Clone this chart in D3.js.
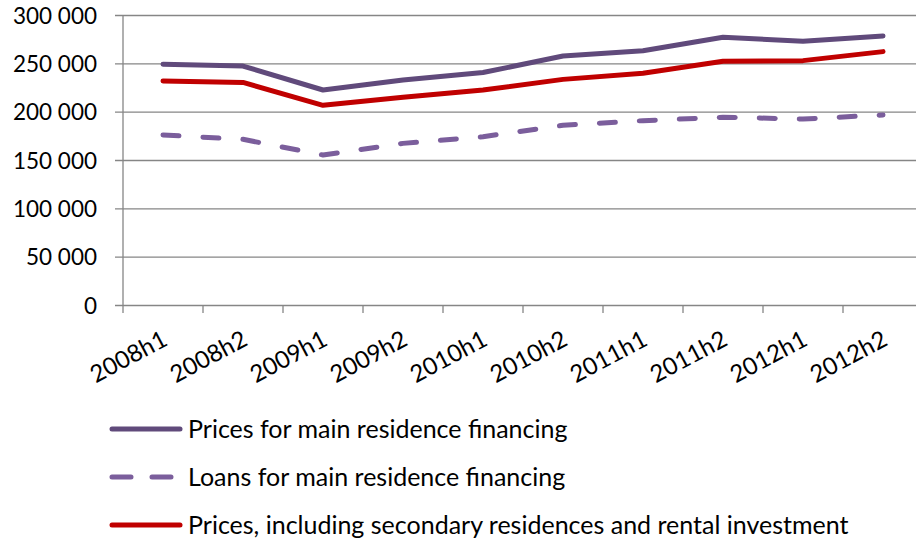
<!DOCTYPE html>
<html>
<head>
<meta charset="utf-8">
<script src="https://cdn.jsdelivr.net/npm/d3@7"></script>
<style>
  body { margin: 0; background: #fff; }
  svg text { font-family: Lato, "Open Sans", sans-serif; fill: #000; }
</style>
</head>
<body>
<svg id="chart" width="916" height="542"></svg>
<script>
// periods on the x axis
var periods = ["2008h1","2008h2","2009h1","2009h2","2010h1","2010h2","2011h1","2011h2","2012h1","2012h2"];
var yTicks = [0, 50000, 100000, 150000, 200000, 250000, 300000];

// series values
var pricesMain = [249000, 247200, 222400, 232700, 240500, 257600, 263100, 276900, 272800, 278300];
var loansMain  = [175900, 171400, 155200, 167200, 174100, 185900, 190700, 194200, 192400, 196600];
var pricesAll  = [231700, 230300, 206600, 214800, 222400, 233400, 239700, 252100, 252800, 262100];

var seriesNames = [
  "Prices for main residence financing",
  "Loans for main residence financing",
  "Prices, including secondary residences and rental investment"
];

var svg = d3.select("#chart");
var mLeft = 123, mTop = 15, mRight = 923, mBottom = 305;

var x = d3.scaleBand().domain(periods).range([mLeft, mRight]);
var y = d3.scaleLinear().domain([0, 300000]).range([mBottom, mTop]);

var fmt = function(d){ return d3.format(",")(d).replace(/,/g, " "); };

// y axis + grid
var yAxis = svg.append("g")
    .attr("transform", `translate(${mLeft},0)`)
    .call(d3.axisLeft(y).tickValues(yTicks).tickSize(-(mRight - mLeft)).tickFormat(fmt).tickPadding(26));
yAxis.select(".domain").remove();
yAxis.selectAll("line")
    .attr("x1", -8)
    .attr("x2", mRight - mLeft)
    .attr("stroke", "#868686")
    .attr("stroke-width", 1.3);
yAxis.selectAll("text")
    .style("font-size", "22.5px")
    .attr("dy", "0.36em");

// vertical axis line
svg.append("line")
    .attr("x1", mLeft).attr("x2", mLeft)
    .attr("y1", mTop).attr("y2", mBottom + 8)
    .attr("stroke", "#868686").attr("stroke-width", 1.3);

// x axis ticks at band boundaries
svg.append("g").selectAll("line")
    .data(periods.slice(1))
    .enter()
    .append("line")
    .attr("x1", function(d){ return x(d); })
    .attr("x2", function(d){ return x(d); })
    .attr("y1", mBottom).attr("y2", mBottom + 8)
    .attr("stroke", "#868686").attr("stroke-width", 1.3);

// x labels, rotated
svg.append("g").selectAll("text")
    .data(periods)
    .enter()
    .append("text")
    .attr("text-anchor", "end")
    .attr("transform", function(d){
        return `translate(${x(d) + x.bandwidth()/2 + 2},${mBottom + 32}) rotate(-28)`;
    })
    .attr("dy", "0.35em")
    .style("font-size", "24px")
    .text(function(d){ return d; });

var line = d3.line()
    .x(function(d, i){ return x(periods[i]) + x.bandwidth()/2; })
    .y(function(d){ return y(d); });

var series = [
  {name: seriesNames[0], values: pricesMain, color: "#604a7b", dash: null},
  {name: seriesNames[1], values: loansMain,  color: "#7b5e9c", dash: "16,24"},
  {name: seriesNames[2], values: pricesAll,  color: "#c00000", dash: null}
];

// draw order: dashed, red, purple
[series[1], series[2], series[0]].forEach(function(s){
  svg.append("path")
    .datum(s.values)
    .attr("d", line)
    .attr("fill", "none")
    .attr("stroke", s.color)
    .attr("stroke-width", 5)
    .attr("stroke-linejoin", "round")
    .attr("stroke-linecap", "round")
    .attr("stroke-dasharray", s.dash);
});

// legend
var rows = svg.append("g").selectAll("g")
    .data(series)
    .enter()
    .append("g")
    .attr("transform", function(d, i){ return `translate(110,${429 + i*48})`; });
rows.append("line")
    .attr("x1", 2).attr("x2", 70)
    .attr("stroke", function(d){ return d.color; })
    .attr("stroke-width", 5)
    .attr("stroke-linecap", "round")
    .attr("stroke-dasharray", function(d){ return d.dash ? "19,21" : null; });
rows.append("text")
    .attr("x", 78)
    .attr("dy", "0.35em")
    .style("font-size", "25px")
    .text(function(d){ return d.name; });
</script>
</body>
</html>
